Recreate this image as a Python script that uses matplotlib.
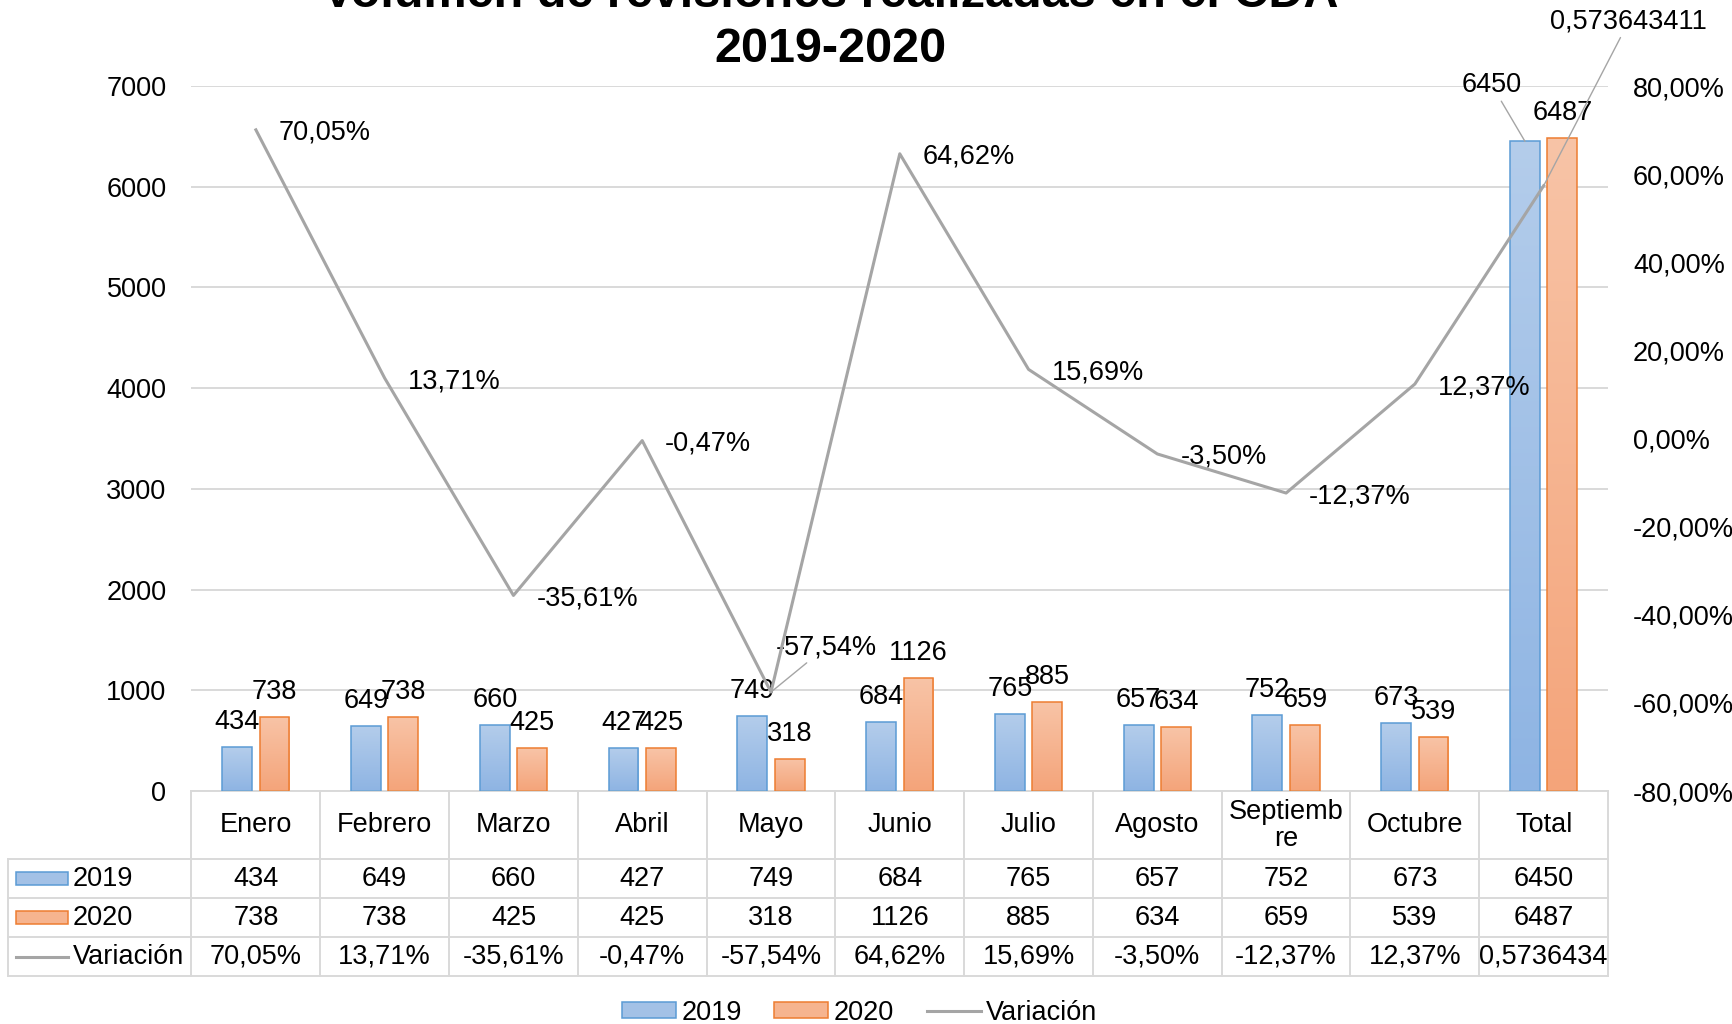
import numpy
import matplotlib
from matplotlib.backends.backend_agg import FigureCanvasAgg as FigureCanvas
from matplotlib.figure import Figure
from matplotlib.colors import LinearSegmentedColormap
from matplotlib.patches import Rectangle, Patch
from matplotlib.lines import Line2D
from matplotlib.ticker import FuncFormatter, MultipleLocator

months = ['Enero', 'Febrero', 'Marzo', 'Abril', 'Mayo', 'Junio', 'Julio',
          'Agosto', 'Septiembre', 'Octubre', 'Total']
revisions_2019 = [434, 649, 660, 427, 749, 684, 765, 657, 752, 673, 6450]
revisions_2020 = [738, 738, 425, 425, 318, 1126, 885, 634, 659, 539, 6487]
variation = [0.7005, 0.1371, -0.3561, -0.0047, -0.5754, 0.6462, 0.1569,
             -0.0350, -0.1237, 0.1237, 0.573643411]

matplotlib.rcParams['font.family'] = ['Liberation Sans', 'DejaVu Sans']

FONT_SIZE = 19.5
BLUE_EDGE = '#5B9BD5'
ORANGE_EDGE = '#ED7D31'
LINE_GRAY = '#A5A5A5'
GRID_GRAY = '#D9D9D9'


def fmt_percent(value):
    return f'{value * 100:.2f}%'.replace('.', ',')


def draw_gradient_bars(axes, bars, bottom_color, top_color, edge_color):
    cmap = LinearSegmentedColormap.from_list('grad', [bottom_color, top_color])
    gradient = numpy.linspace(0, 1, 256).reshape(-1, 1)
    for bar in bars:
        x0 = bar.get_x()
        width = bar.get_width()
        height = bar.get_height()
        image = axes.imshow(gradient, extent=(x0, x0 + width, 0, height),
                            origin='lower', cmap=cmap, aspect='auto',
                            interpolation='bilinear', zorder=2)
        image.set_clip_path(bar)
        bar.set_facecolor('none')
        bar.set_edgecolor(edge_color)
        bar.set_zorder(3)


def label_bars(axes, bars, values, shifts):
    for idx, (bar, value) in enumerate(zip(bars, values)):
        top = (bar.get_x() + bar.get_width() / 2, bar.get_height())
        if idx in shifts:
            axes.annotate(str(value), xy=top, xytext=shifts[idx],
                          textcoords='offset pixels', ha='center', va='center',
                          fontsize=FONT_SIZE, zorder=5,
                          arrowprops=dict(arrowstyle='-', color=LINE_GRAY, lw=1.0,
                                          shrinkA=0, shrinkB=0))
        else:
            axes.annotate(str(value), xy=top, xytext=(0, 25),
                          textcoords='offset pixels', ha='center', va='center',
                          fontsize=FONT_SIZE, zorder=5)


def draw_table(axes, x_poss):
    ncols = len(months)
    rows_y = [0, -0.0969, -0.1522, -0.2075, -0.2624]
    legend_left = -0.1293
    kw = dict(transform=axes.transAxes, clip_on=False, color=GRID_GRAY, lw=1.4)

    axes.plot([0, 1], [rows_y[0], rows_y[0]], **kw)
    for y in rows_y[1:]:
        axes.plot([legend_left, 1], [y, y], **kw)
    for i in range(ncols + 1):
        axes.plot([i / ncols, i / ncols], [0, rows_y[-1]], **kw)
    axes.plot([legend_left, legend_left], [rows_y[1], rows_y[-1]], **kw)

    headers = [m if len(m) < 10 else m[:8] + '\n' + m[8:] for m in months]
    row_2019 = [str(v) for v in revisions_2019]
    row_2020 = [str(v) for v in revisions_2020]
    row_var = [fmt_percent(v) for v in variation[:-1]] + \
              [f'{variation[-1]:.7f}'.replace('.', ',')]

    table_rows = [headers, row_2019, row_2020, row_var]
    for r, row in enumerate(table_rows):
        yc = (rows_y[r] + rows_y[r + 1]) / 2
        for i, txt in enumerate(row):
            axes.text((i + 0.5) / ncols, yc, txt, transform=axes.transAxes,
                      ha='center', va='center', fontsize=FONT_SIZE,
                      linespacing=1.05, clip_on=False)

    # series keys inside the table
    sw_x0, sw_w, sw_h = -0.1239, 0.0367, 0.0184
    keys = [('2019', '#A3C1E6', BLUE_EDGE, 'bar'),
            ('2020', '#F6B48F', ORANGE_EDGE, 'bar'),
            ('Variación', LINE_GRAY, LINE_GRAY, 'line')]
    for r, (name, face, edge, kind) in enumerate(keys, start=1):
        yc = (rows_y[r] + rows_y[r + 1]) / 2
        if kind == 'bar':
            axes.add_patch(Rectangle((sw_x0, yc - sw_h / 2), sw_w, sw_h,
                                     transform=axes.transAxes, facecolor=face,
                                     edgecolor=edge, lw=1.1, clip_on=False))
        else:
            axes.plot([sw_x0, sw_x0 + sw_w], [yc, yc], transform=axes.transAxes,
                      color=face, lw=2.2, clip_on=False)
        axes.text(sw_x0 + sw_w + 0.0035, yc, name, transform=axes.transAxes,
                  ha='left', va='center', fontsize=FONT_SIZE, clip_on=False)


def plot_revisions():
    fig = Figure(figsize=(17.33, 10.24), dpi=100)
    FigureCanvas(fig)  # needed for savefig
    axes = fig.add_axes([0.1105, 0.2275, 0.8174, 0.6885])

    x_poss = numpy.arange(len(months))
    bar_width = 0.232
    offset = 0.145
    bars_2019 = axes.bar(x_poss - offset, revisions_2019, width=bar_width, linewidth=1.1)
    bars_2020 = axes.bar(x_poss + offset, revisions_2020, width=bar_width, linewidth=1.1)
    draw_gradient_bars(axes, bars_2019, '#8EB4E3', '#B4CDEB', BLUE_EDGE)
    draw_gradient_bars(axes, bars_2020, '#F4A47A', '#F8C4A7', ORANGE_EDGE)

    axes.set_xlim(-0.5, len(months) - 0.5)
    axes.set_ylim(0, 7000)
    axes.yaxis.set_major_locator(MultipleLocator(1000))
    axes.grid(axis='y', color=GRID_GRAY, lw=1.4)
    axes.set_axisbelow(True)
    axes.set_xticks([])
    axes.tick_params(axis='y', length=0, pad=18, labelsize=FONT_SIZE)
    for spine in axes.spines.values():
        spine.set_visible(False)

    label_bars(axes, bars_2019, revisions_2019, {10: (-33, 56)})
    label_bars(axes, bars_2020, revisions_2020, {})

    axes2 = axes.twinx()
    axes2.plot(x_poss, variation, color=LINE_GRAY, lw=2.2, zorder=4)
    axes2.set_ylim(-0.8, 0.8)
    axes2.yaxis.set_major_locator(MultipleLocator(0.2))
    axes2.yaxis.set_major_formatter(FuncFormatter(lambda v, p: fmt_percent(v)))
    axes2.tick_params(axis='y', length=0, pad=18, labelsize=FONT_SIZE)
    for spine in axes2.spines.values():
        spine.set_visible(False)

    arrow = dict(arrowstyle='-', color=LINE_GRAY, lw=1.0, shrinkA=0, shrinkB=0)
    for idx, value in enumerate(variation):
        if idx == 4:
            axes2.annotate(fmt_percent(value), xy=(x_poss[idx], value), xytext=(55, 45),
                           textcoords='offset pixels', ha='center', va='center',
                           fontsize=FONT_SIZE, arrowprops=arrow)
        elif idx == len(variation) - 1:
            axes2.annotate(f'{value:.9f}'.replace('.', ','), xy=(x_poss[idx], value),
                           xytext=(85, 164), textcoords='offset pixels',
                           ha='center', va='center', fontsize=FONT_SIZE,
                           arrowprops=arrow, annotation_clip=False)
        else:
            axes2.annotate(fmt_percent(value), xy=(x_poss[idx], value), xytext=(23, -3),
                           textcoords='offset pixels', ha='left', va='center',
                           fontsize=FONT_SIZE)

    draw_table(axes, x_poss)

    handles = [Patch(facecolor='#A3C1E6', edgecolor=BLUE_EDGE, lw=1.1),
               Patch(facecolor='#F6B48F', edgecolor=ORANGE_EDGE, lw=1.1),
               Line2D([], [], color=LINE_GRAY, lw=2.2)]
    fig.legend(handles, ['2019', '2020', 'Variación'], loc='center',
               bbox_to_anchor=(0.496, 0.0112), ncol=3, frameon=False,
               fontsize=FONT_SIZE, handlelength=2.0, handleheight=0.55,
               handletextpad=0.2, columnspacing=1.2)

    fig.text(0.479, 0.993, 'Volumen de revisiones realizadas en el CDA',
             ha='center', va='baseline', fontsize=35, fontweight='bold')
    fig.text(0.479, 0.9397, '2019-2020', ha='center', va='baseline',
             fontsize=35, fontweight='bold')

    fig.savefig('out.png', dpi=100)


if __name__ == '__main__':
    plot_revisions()
